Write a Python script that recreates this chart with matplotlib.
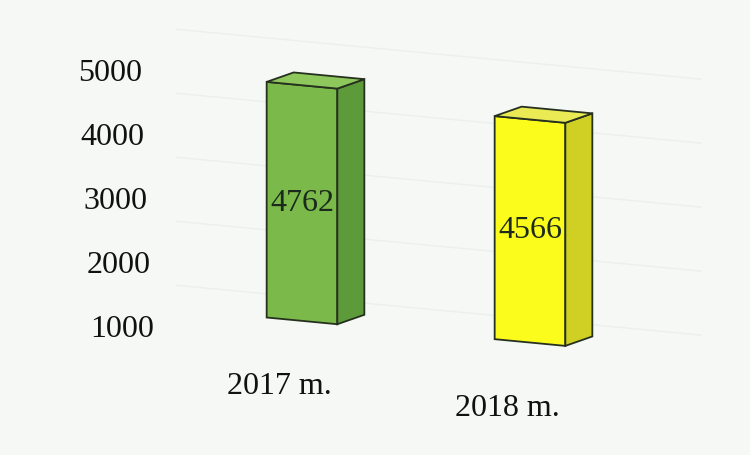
import matplotlib
matplotlib.use("Agg")
import matplotlib.pyplot as plt
from matplotlib.patches import Polygon
from matplotlib.transforms import Affine2D

# ---- data ----
categories = ["2017 m.", "2018 m."]
values = [4762, 4566]
value_labels = ["4762", "4566"]
yticks = [1000, 2000, 3000, 4000, 5000]
ytick_labels = ["1000", "2000", "3000", "4000", "5000"]

# ---- style ----
front_colors = ["#7ab94a", "#fbfb1c"]
side_colors = ["#5d9a3a", "#cfcf24"]
top_colors = ["#8ec85c", "#eaea55"]
edge = "#26301f"
bg = "#f5f8f4"
grid_c = "#ecf0ec"
floor = 1080          # visual floor of the bars
bar_w = 0.31
depth_px = (27, 12)   # pseudo-3D depth in pixels
shear = 0.095         # scan skew (pixels down per pixel right)
DPI = 100

plt.rcParams["font.family"] = ["Liberation Serif", "DejaVu Serif"]

fig = plt.figure(figsize=(7.5, 4.55), dpi=DPI, facecolor=bg)
ax = fig.add_axes([150 / 750, 0, 600 / 750, 1])
ax.set_facecolor(bg)
ax.set_xlim(-152 / 228, 448 / 228)
ax.set_ylim(-1016, 6094)
for s in ax.spines.values():
    s.set_visible(False)
ax.set_xticks([])
ax.set_yticks(yticks)
ax.set_yticklabels(ytick_labels, fontsize=23, color="#111111")
ax.tick_params(axis="y", length=0, pad=6)
# slight slant of the scanned tick column
for t, lbl in zip(yticks, ax.get_yticklabels()):
    shift = (max(yticks) - t) / 1000.0 * 3.0
    lbl.set_transform(lbl.get_transform() + Affine2D().translate(shift, 0))

# skew transform (display coords), pivot at the first bar
pivot_x = 302
skew = Affine2D.from_values(1, -shear, 0, 1, 0, shear * pivot_x)
tr = ax.transData + skew

# faint back-wall grid lines
for t in yticks:
    ax.plot([-0.55, 1.75], [t + 450, t + 450], color=grid_c, lw=1.0,
            transform=tr, zorder=1)

# depth in data units
ppx = 228.0                      # pixels per category unit
ppy = 64.0 / 1000.0              # pixels per value unit
dx = depth_px[0] / ppx
dy = depth_px[1] / ppy

for i, (cat, v) in enumerate(zip(categories, values)):
    x0, x1 = i - bar_w / 2, i + bar_w / 2
    front = Polygon([(x0, floor), (x1, floor), (x1, v), (x0, v)], closed=True,
                    facecolor=front_colors[i], edgecolor=edge, lw=1.3,
                    transform=tr, zorder=3)
    side = Polygon([(x1, floor), (x1 + dx, floor + dy), (x1 + dx, v + dy), (x1, v)],
                   closed=True, facecolor=side_colors[i], edgecolor=edge, lw=1.3,
                   transform=tr, zorder=3)
    top = Polygon([(x0, v), (x1, v), (x1 + dx, v + dy), (x0 + dx, v + dy)],
                  closed=True, facecolor=top_colors[i], edgecolor=edge, lw=1.3,
                  transform=tr, zorder=3)
    for p in (front, side, top):
        ax.add_patch(p)
    ax.text(i, (floor + v) / 2, value_labels[i], ha="center", va="center",
            fontsize=23, color="#1c2a1c", transform=tr, zorder=4)
    ax.text(i - 0.1, 20, cat, ha="center", va="center", fontsize=23,
            color="#111111", transform=tr, zorder=4)

fig.savefig("out.png", dpi=DPI, facecolor=bg)
